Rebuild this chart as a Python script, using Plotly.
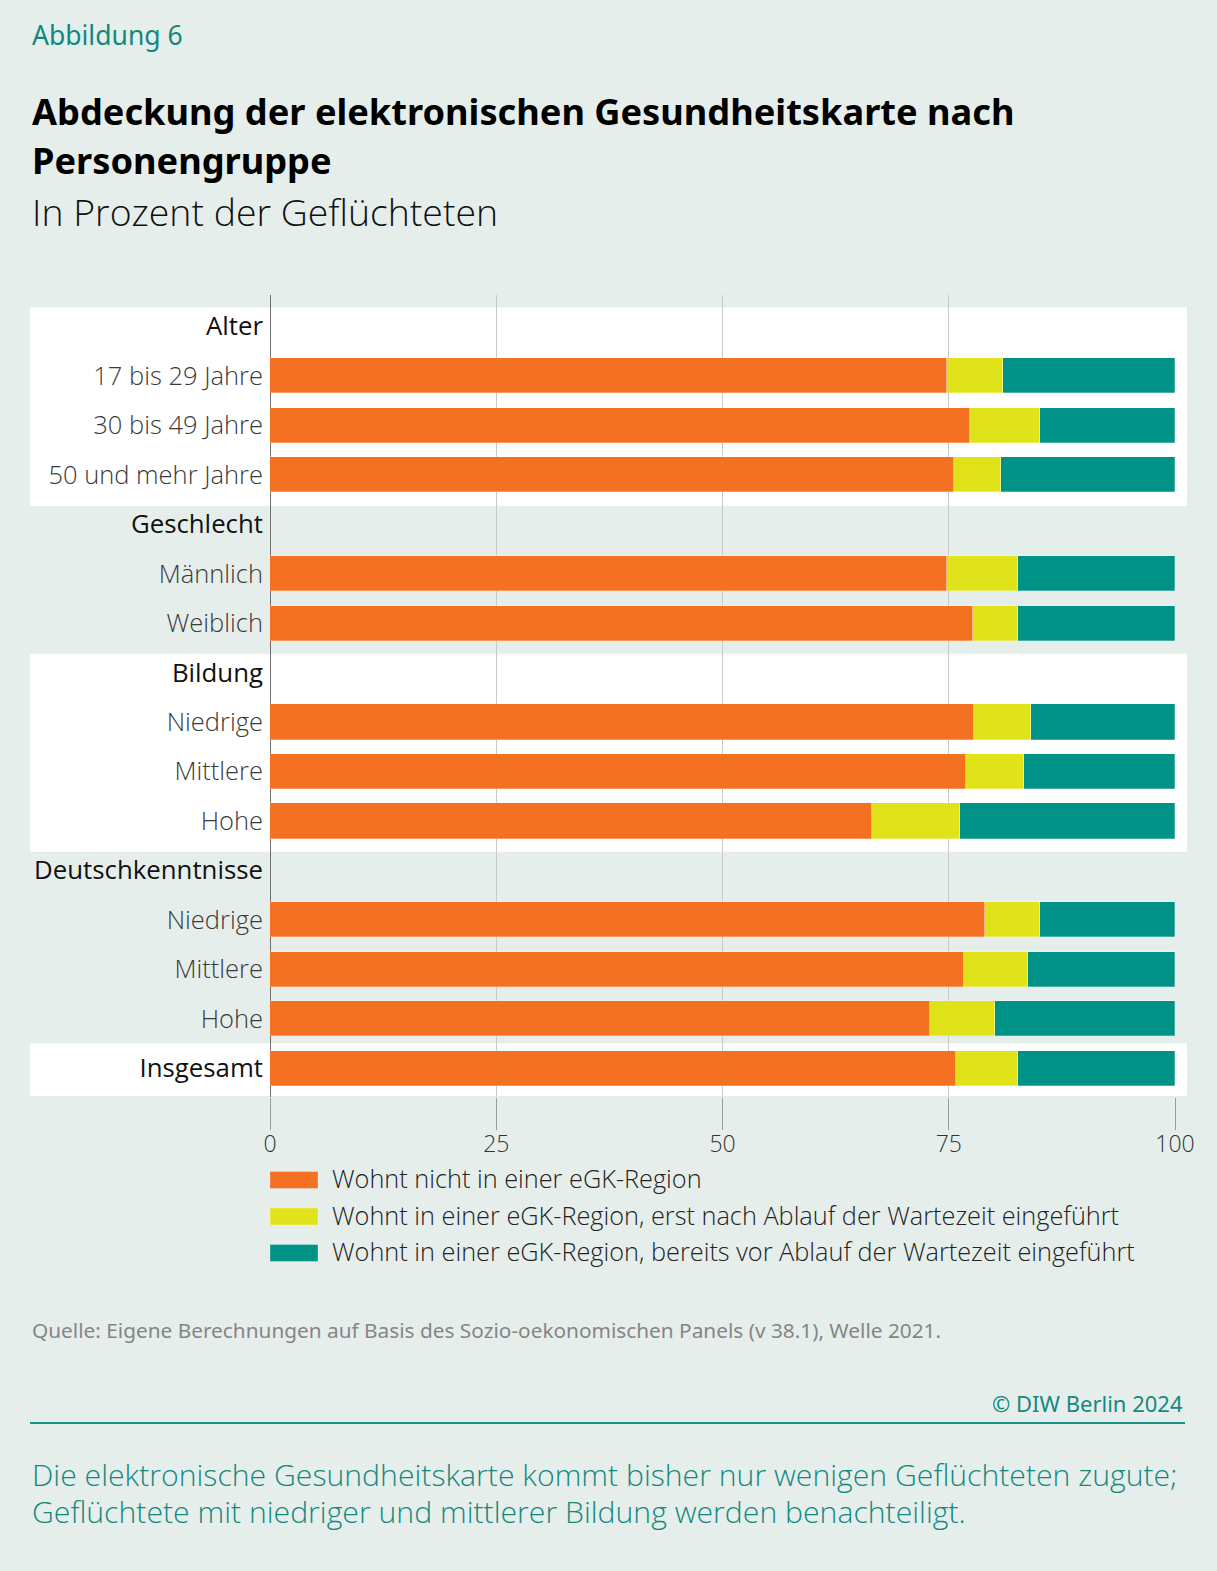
import plotly.graph_objects as go

# --- data -----------------------------------------------------------------
rows = [
    "Alter", "17 bis 29 Jahre", "30 bis 49 Jahre", "50 und mehr Jahre",
    "Geschlecht", "Männlich", "Weiblich",
    "Bildung", "Niedrige", "Mittlere", "Hohe",
    "Deutschkenntnisse", "Niedrige", "Mittlere", "Hohe",
    "Insgesamt",
]
group_heads = ["Alter", "Geschlecht", "Bildung", "Deutschkenntnisse"]

series_names = [
    "Wohnt nicht in einer eGK-Region",
    "Wohnt in einer eGK-Region, erst nach Ablauf der Wartezeit eingeführt",
    "Wohnt in einer eGK-Region, bereits vor Ablauf der Wartezeit eingeführt",
]
# one value per bar row (all rows except the group headings), top to bottom
no_egk = [74.8, 77.3, 75.6, 74.8, 77.7, 77.8, 76.9, 66.5, 79.0, 76.7, 72.9, 75.8]
egk_after = [6.2, 7.8, 5.2, 7.9, 5.0, 6.3, 6.4, 9.7, 6.1, 7.1, 7.2, 6.9]
egk_before = [19.0, 14.9, 19.2, 17.3, 17.3, 15.9, 16.7, 23.8, 14.9, 16.2, 19.9, 17.3]

x_ticks = [0, 25, 50, 75, 100]

# --- style ----------------------------------------------------------------
BG = "#E6EEEC"
TEAL_TXT = "#12897E"
COLORS = ["#F37121", "#E1E31A", "#009287"]
FONT = "Noto Sans"
LIGHT = "Open Sans"

W, H = 1217, 1571
L, R, T, B = 270, 1175, 295, 1097  # plot area in pixels


def px(xp):
    return (xp - L) / (R - L)


def py(yp):
    return (B - yp) / (B - T)


bar_y = [i for i, r in enumerate(rows) if r not in group_heads]

fig = go.Figure()
for name, vals, color in zip(series_names, [no_egk, egk_after, egk_before], COLORS):
    fig.add_bar(
        y=bar_y,
        x=vals,
        orientation="h",
        name=name,
        width=0.71,
        marker={"color": color, "line": {"color": "rgba(255,255,255,0.45)", "width": 0.6}},
        showlegend=False,
    )

# white bands behind Alter, Bildung and Insgesamt
for y0, y1 in [(-0.38, 3.63), (6.62, 10.62), (14.5, 15.56)]:
    fig.add_shape(
        type="rect", xref="paper", yref="y",
        x0=px(30), x1=px(1187), y0=y0, y1=y1,
        fillcolor="white", line_width=0, layer="below",
    )

ticktext = []
for r in rows:
    if r in group_heads or r == "Insgesamt":
        ticktext.append(f"<span style='color:#111111;font-size:25.8px;font-weight:400'>{r}</span>")
    else:
        ticktext.append(r)

fig.update_yaxes(
    range=[15.58, -0.633],
    tickvals=list(range(len(rows))),
    ticktext=ticktext,
    tickfont={"family": LIGHT, "size": 25.5, "color": "#3a3a3a", "weight": 300},
    ticks="",
    ticklabelstandoff=6,
    showgrid=False,
    zeroline=False,
    showline=False,
)
fig.update_xaxes(
    range=[0, 100],
    tickvals=x_ticks,
    tickfont={"family": LIGHT, "size": 23, "color": "#333333", "weight": 300},
    ticks="outside",
    ticklen=32,
    ticklabelstandoff=-6,
    tickcolor="#9a9a9a",
    tickwidth=1,
    showgrid=True,
    gridcolor="#C6CAC9",
    gridwidth=1,
    zeroline=True,
    zerolinecolor="#707070",
    zerolinewidth=1,
    showline=False,
)

# legend drawn by hand so the swatches keep the wide shape
for k, (name, color) in enumerate(zip(series_names, COLORS)):
    yc = 1180 + k * 36.5
    fig.add_shape(
        type="rect", xref="paper", yref="paper",
        x0=px(270), x1=px(318), y0=py(yc - 8.5), y1=py(yc + 8.5),
        fillcolor=color, line={"color": "rgba(255,255,255,0.5)", "width": 0.6},
    )
    fig.add_annotation(
        xref="paper", yref="paper", x=px(330), y=py(yc - 2),
        text=name, showarrow=False, xanchor="left", yanchor="middle",
        font={"family": LIGHT, "size": 25.3, "color": "#222222", "weight": 300},
    )


def text(x, y, s, size, color, anchor="left", weight=400, family=FONT):
    fig.add_annotation(
        xref="paper", yref="paper", x=px(x), y=py(y), text=s,
        showarrow=False, xanchor=anchor, yanchor="middle",
        font={"family": family, "size": size, "color": color, "weight": weight},
    )


text(30, 35, "Abbildung 6", 26.5, TEAL_TXT)
text(30, 111, "Abdeckung der elektronischen Gesundheitskarte nach", 36.2, "#000000", weight=700)
text(30, 160, "Personengruppe", 36.2, "#000000", weight=700)
text(30, 211, "In Prozent der Geflüchteten", 37.4, "#111111", weight=300, family=LIGHT)
text(30, 1330,
     "Quelle: Eigene Berechnungen auf Basis des Sozio-oekonomischen Panels (v 38.1), Welle 2021.",
     20.8, "#858585")
text(1185, 1403, "© DIW Berlin 2024", 22, TEAL_TXT, anchor="right")
text(30, 1474, "Die elektronische Gesundheitskarte kommt bisher nur wenigen Geflüchteten zugute;",
     30.2, TEAL_TXT, weight=300, family=LIGHT)
text(30, 1511, "Geflüchtete mit niedriger und mittlerer Bildung werden benachteiligt.",
     30.2, TEAL_TXT, weight=300, family=LIGHT)

fig.add_shape(
    type="line", xref="paper", yref="paper",
    x0=px(30), x1=px(1185), y0=py(1423), y1=py(1423),
    line={"color": "#1A9488", "width": 2},
)

fig.update_layout(
    width=W,
    height=H,
    barmode="stack",
    bargap=0,
    paper_bgcolor=BG,
    plot_bgcolor="rgba(0,0,0,0)",
    margin={"l": L, "r": W - R, "t": T, "b": H - B, "autoexpand": False},
    showlegend=False,
    font={"family": FONT},
)

fig.write_html(
    "out.html",
    config={"displayModeBar": False},
    post_script="document.body.style.margin = '0';",
)
